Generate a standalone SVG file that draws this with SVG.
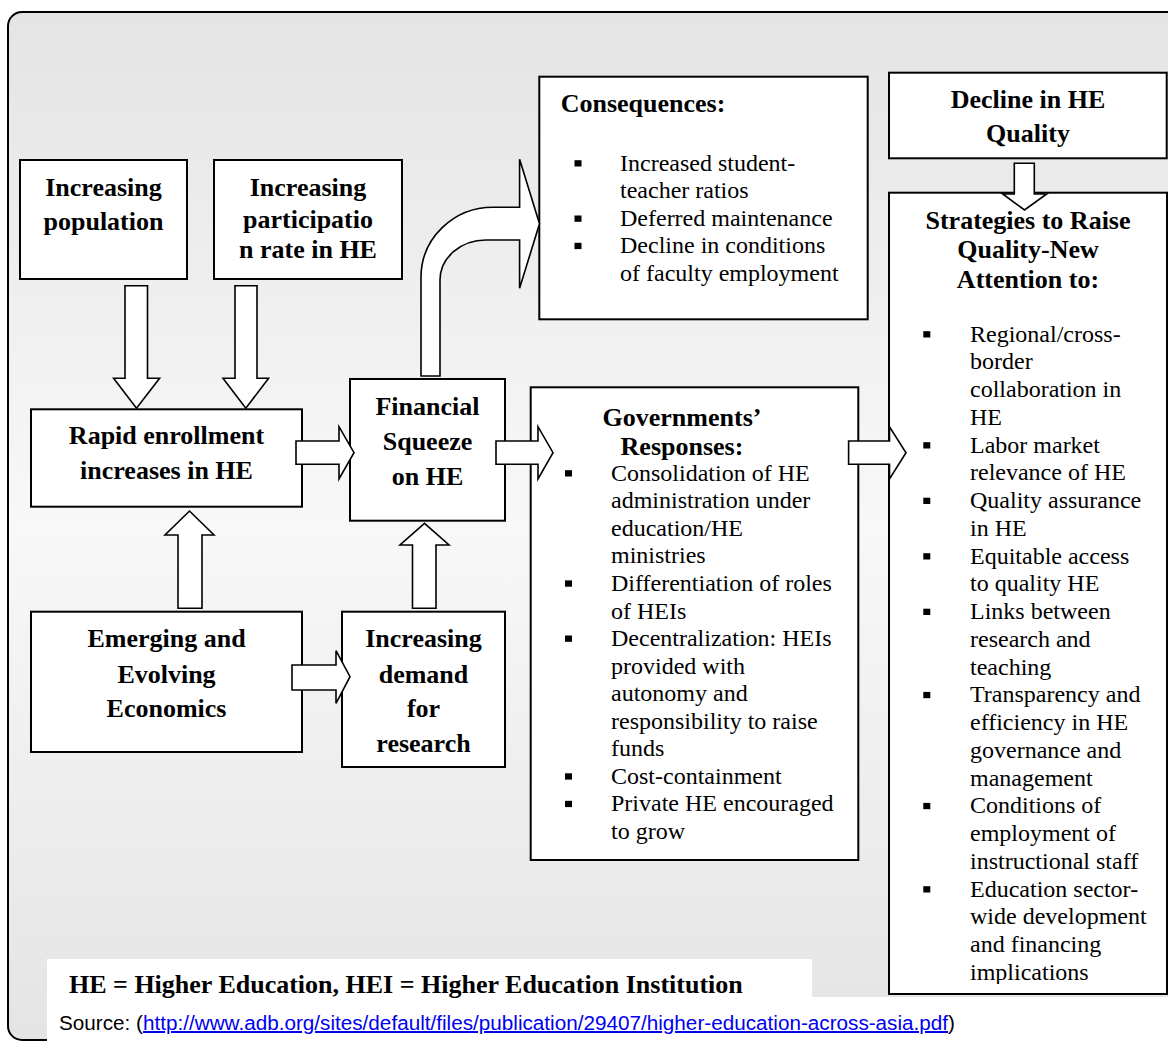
<svg xmlns="http://www.w3.org/2000/svg" width="1168" height="1044" viewBox="0 0 1168 1044">
<defs>
<linearGradient id="bg" x1="0" y1="0" x2="0" y2="1">
<stop offset="0" stop-color="#e4e4e4"/>
<stop offset="0.5" stop-color="#f8f8f8"/>
<stop offset="1" stop-color="#e4e4e4"/>
</linearGradient>
<clipPath id="stratClip"><rect x="889" y="192" width="279" height="792"/></clipPath>
<style>
.box{fill:#fff;stroke:#000;stroke-width:2}
.arr{fill:#fff;stroke:#000;stroke-width:1.6;stroke-linejoin:miter}
.h{font-family:"Liberation Serif","Times New Roman",serif;font-weight:bold;font-size:26px;fill:#000}
.c{text-anchor:middle}
.b{font-family:"Liberation Serif","Times New Roman",serif;font-size:24px;fill:#000}
.bul{fill:#000}
.src{font-family:"Liberation Sans",Arial,sans-serif;font-size:20px;fill:#000}
.lnk{fill:#0000ee;text-decoration:underline}
</style>
</defs>
<rect x="8" y="12" width="1180" height="1028" rx="14" ry="14" fill="url(#bg)" stroke="#000" stroke-width="2"/>

<g id="node-population">
<rect class="box" x="20" y="160" width="167" height="119"/>
<text class="h c" x="103.5" y="196">Increasing</text>
<text class="h c" x="103.5" y="230">population</text>
</g>
<g id="node-participation">
<rect class="box" x="214" y="160" width="188" height="119"/>
<text class="h c" x="308" y="196">Increasing</text>
<text class="h c" x="308" y="228">participatio</text>
<text class="h c" x="308" y="258">n rate in HE</text>
</g>
<g id="node-rapid">
<rect class="box" x="31" y="409.3" width="271" height="97.4"/>
<text class="h c" x="166.5" y="444.3">Rapid enrollment</text>
<text class="h c" x="166.5" y="479.3">increases in HE</text>
</g>
<g id="node-financial">
<rect class="box" x="350" y="379" width="155" height="141.7"/>
<text class="h c" x="427.5" y="415">Financial</text>
<text class="h c" x="427.5" y="450">Squeeze</text>
<text class="h c" x="427.5" y="485">on HE</text>
</g>
<g id="node-emerging">
<rect class="box" x="31" y="611.7" width="271" height="140.3"/>
<text class="h c" x="166.5" y="647.3">Emerging and</text>
<text class="h c" x="166.5" y="682.7">Evolving</text>
<text class="h c" x="166.5" y="717.3">Economics</text>
</g>
<g id="node-demand">
<rect class="box" x="342" y="611.7" width="163" height="155.3"/>
<text class="h c" x="423.5" y="647.3">Increasing</text>
<text class="h c" x="423.5" y="682.7">demand</text>
<text class="h c" x="423.5" y="717.3">for</text>
<text class="h c" x="423.5" y="752">research</text>
</g>
<g id="node-consequences">
<rect class="box" x="539.3" y="76.7" width="328.4" height="242.6"/>
<text class="h" x="560.7" y="111.7">Consequences:</text>
<rect class="bul" x="574.5" y="160.2" width="7" height="6.3"/>
<rect class="bul" x="574.5" y="215.5" width="7" height="6.3"/>
<rect class="bul" x="574.5" y="242.8" width="7" height="6.3"/>
<text class="b" x="620" y="170.7">Increased student-</text>
<text class="b" x="620" y="198">teacher ratios</text>
<text class="b" x="620" y="226">Deferred maintenance</text>
<text class="b" x="620" y="253.3">Decline in conditions</text>
<text class="b" x="620" y="280.7">of faculty employment</text>
</g>
<g id="node-governments">
<rect class="box" x="530.7" y="387.3" width="327.6" height="472.7"/>
<text class="h c" x="682" y="426">Governments’</text>
<text class="h c" x="682" y="455">Responses:</text>
<rect class="bul" x="565" y="470.2" width="7" height="6.3"/>
<rect class="bul" x="565" y="580.4" width="7" height="6.3"/>
<rect class="bul" x="565" y="635.5" width="7" height="6.3"/>
<rect class="bul" x="565" y="773.3" width="7" height="6.3"/>
<rect class="bul" x="565" y="800.8" width="7" height="6.3"/>
<text class="b" x="611" y="480.7">Consolidation of HE</text>
<text class="b" x="611" y="508.3">administration under</text>
<text class="b" x="611" y="535.8">education/HE</text>
<text class="b" x="611" y="563.4">ministries</text>
<text class="b" x="611" y="590.9">Differentiation of roles</text>
<text class="b" x="611" y="618.5">of HEIs</text>
<text class="b" x="611" y="646">Decentralization: HEIs</text>
<text class="b" x="611" y="673.6">provided with</text>
<text class="b" x="611" y="701.1">autonomy and</text>
<text class="b" x="611" y="728.7">responsibility to raise</text>
<text class="b" x="611" y="756.2">funds</text>
<text class="b" x="611" y="783.8">Cost-containment</text>
<text class="b" x="611" y="811.3">Private HE encouraged</text>
<text class="b" x="611" y="838.9">to grow</text>
</g>
<g id="node-decline">
<rect class="box" x="889" y="72.7" width="277.7" height="85.6"/>
<text class="h c" x="1028" y="108.3">Decline in HE</text>
<text class="h c" x="1028" y="141.7">Quality</text>
</g>
<g id="node-strategies">
<rect class="box" x="889" y="192.7" width="278" height="801.3"/>
<text class="h c" x="1028" y="229.3">Strategies to Raise</text>
<text class="h c" x="1028" y="258.3">Quality-New</text>
<text class="h c" x="1028" y="288.3">Attention to:</text>
<rect class="bul" x="923.3" y="331.2" width="7" height="6.3"/>
<rect class="bul" x="923.3" y="442.2" width="7" height="6.3"/>
<rect class="bul" x="923.3" y="497.7" width="7" height="6.3"/>
<rect class="bul" x="923.3" y="553.2" width="7" height="6.3"/>
<rect class="bul" x="923.3" y="608.7" width="7" height="6.3"/>
<rect class="bul" x="923.3" y="691.9" width="7" height="6.3"/>
<rect class="bul" x="923.3" y="802.9" width="7" height="6.3"/>
<rect class="bul" x="923.3" y="886.2" width="7" height="6.3"/>
<g clip-path="url(#stratClip)">
<text class="b" x="970" y="341.7">Regional/cross-</text>
<text class="b" x="970" y="369.45">border</text>
<text class="b" x="970" y="397.2">collaboration in</text>
<text class="b" x="970" y="424.95">HE</text>
<text class="b" x="970" y="452.7">Labor market</text>
<text class="b" x="970" y="480.45">relevance of HE</text>
<text class="b" x="970" y="508.2">Quality assurance</text>
<text class="b" x="970" y="535.95">in HE</text>
<text class="b" x="970" y="563.7">Equitable access</text>
<text class="b" x="970" y="591.45">to quality HE</text>
<text class="b" x="970" y="619.2">Links between</text>
<text class="b" x="970" y="646.95">research and</text>
<text class="b" x="970" y="674.7">teaching</text>
<text class="b" x="970" y="702.45">Transparency and</text>
<text class="b" x="970" y="730.2">efficiency in HE</text>
<text class="b" x="970" y="757.95">governance and</text>
<text class="b" x="970" y="785.7">management</text>
<text class="b" x="970" y="813.45">Conditions of</text>
<text class="b" x="970" y="841.2">employment of</text>
<text class="b" x="970" y="868.95">instructional staff</text>
<text class="b" x="970" y="896.7">Education sector-</text>
<text class="b" x="970" y="924.45">wide development</text>
<text class="b" x="970" y="952.2">and financing</text>
<text class="b" x="970" y="979.95">implications</text>
</g>
</g>

<g id="connectors">
<path class="arr" d="M125,285.7 H147.5 V378.3 H159.6 L136.5,408.3 L113.6,378.3 H125 Z"/>
<path class="arr" d="M235,285.7 H257 V378.3 H268.6 L245.8,408.3 L223,378.3 H235 Z"/>
<path class="arr" d="M296,441 H339 V426.7 L354,452.7 L339,479 V464.3 H296 Z"/>
<path class="arr" d="M496,441 H538 V426.7 L553,452.7 L538,479 V464.3 H496 Z"/>
<path class="arr" d="M848.6,441 H889.5 V426.7 L906,452.7 L889.5,479 V464.3 H848.6 Z"/>
<path class="arr" d="M292,665 H336 V650.7 L350,676.7 L336,703.3 V690 H292 Z"/>
<path class="arr" d="M178,608.3 V535 H165 L189.5,511 L214,535 H202 V608.3 Z"/>
<path class="arr" d="M412.5,608.3 V545 H400 L424.5,523.3 L449,545 H436 V608.3 Z"/>
<path class="arr" d="M1014.3,163.3 H1034.3 V194 H1046.7 L1024.5,210 L1002.7,194 H1014.3 Z"/>
<path class="arr" d="M421,376 V277 A72,70 0 0 1 493,207.3 H519.6 V159.3 L539.5,223.7 L519.6,288.3 V240 H486 A46,40 0 0 0 440,280 V376 Z"/>
</g>

<g id="notes">
<rect x="47" y="959" width="765" height="85" fill="#fff"/>
<rect x="47" y="997" width="1121" height="47" fill="#fff"/>
<text class="h" x="69" y="993">HE = Higher Education, HEI = Higher Education Institution</text>
<text class="src" x="59" y="1030" textLength="896" lengthAdjust="spacingAndGlyphs">Source: (<tspan class="lnk">http://www.adb.org/sites/default/files/publication/29407/higher-education-across-asia.pdf</tspan>)</text>
</g>
</svg>
